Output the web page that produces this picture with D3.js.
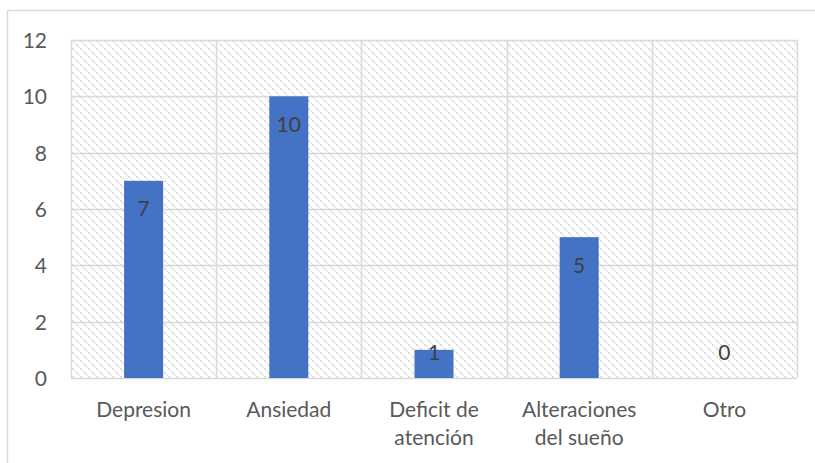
<!DOCTYPE html>
<html>
<head>
<meta charset="utf-8">
<script src="https://cdn.jsdelivr.net/npm/d3@7"></script>
<style>
  html, body { margin: 0; padding: 0; background: #fff; }
  svg { display: block; }
  text { font-family: "Lato", "Open Sans", sans-serif; fill: #595959; }
</style>
</head>
<body>
<svg id="chart" width="815" height="463"></svg>
<script>
// Chart data
const categories = ["Depresion", "Ansiedad", "Deficit de atención", "Alteraciones del sueño", "Otro"];
const categoryLines = [["Depresion"], ["Ansiedad"], ["Deficit de", "atención"], ["Alteraciones", "del sueño"], ["Otro"]];
const values = [7, 10, 1, 5, 0];
const yTicks = [0, 2, 4, 6, 8, 10, 12];

const svg = d3.select("#chart");
const W = 815, H = 463;
const plot = { left: 71, right: 797, top: 40, bottom: 378 };
const fontSize = "21px";

// Outer chart frame
svg.append("rect")
  .attr("x", 7.5).attr("y", 10.5)
  .attr("width", W + 10).attr("height", H + 10)
  .attr("fill", "#fff").attr("stroke", "#d9d9d9").attr("stroke-width", 1.5);

// Diagonal hatch for the plot area background
const defs = svg.append("defs");
const pat = defs.append("pattern")
  .attr("id", "hatch").attr("patternUnits", "userSpaceOnUse")
  .attr("width", 8).attr("height", 8);
pat.append("rect").attr("width", 8).attr("height", 8).attr("fill", "#ffffff");
[[0, 0], [2, 2], [4, 4], [6, 6]].forEach(([x, y], i) => {
  pat.append("rect").attr("x", x).attr("y", y).attr("width", 2).attr("height", 2)
    .attr("fill", i % 2 === 0 ? "#dddddd" : "#ebebeb");
});

const x = d3.scaleBand().domain(categories).range([plot.left, plot.right]).paddingInner(0).paddingOuter(0);
const y = d3.scaleLinear().domain([0, 12]).range([plot.bottom, plot.top]);

svg.append("rect")
  .attr("x", plot.left).attr("y", plot.top)
  .attr("width", plot.right - plot.left).attr("height", plot.bottom - plot.top)
  .attr("fill", "url(#hatch)");

// Horizontal gridlines
svg.append("g").selectAll("line").data(yTicks).join("line")
  .attr("x1", plot.left).attr("x2", plot.right)
  .attr("y1", d => Math.round(y(d)) + 0.5).attr("y2", d => Math.round(y(d)) + 0.5)
  .attr("stroke", "#d9d9d9").attr("stroke-width", 1.5);

// Vertical gridlines at category boundaries
const bounds = categories.map(c => x(c)).concat([plot.right]);
svg.append("g").selectAll("line").data(bounds).join("line")
  .attr("x1", d => Math.round(d) + 0.5).attr("x2", d => Math.round(d) + 0.5)
  .attr("y1", plot.top).attr("y2", plot.bottom)
  .attr("stroke", "#d9d9d9").attr("stroke-width", 1.5);

// Y axis labels
const yAxis = d3.axisLeft(y).tickValues(yTicks).tickSize(0).tickPadding(0);
const gy = svg.append("g").attr("transform", `translate(47,0)`).call(yAxis);
gy.select(".domain").remove();
gy.selectAll("text").style("font-size", fontSize).style("font-family", null).attr("fill", "#595959").attr("dy", "0.35em");

// Bars
const barW = 39;
svg.append("g").selectAll("rect").data(values).join("rect")
  .attr("x", (d, i) => x(categories[i]) + x.bandwidth() / 2 - barW / 2)
  .attr("y", d => y(d))
  .attr("width", barW)
  .attr("height", d => y(0) - y(d))
  .attr("fill", "#4472c4");

// Value labels
svg.append("g").selectAll("text").data(values).join("text")
  .attr("x", (d, i) => x(categories[i]) + x.bandwidth() / 2)
  .attr("y", d => Math.min(y(d) + 28, y(0) - 25))
  .attr("dy", "0.35em")
  .attr("text-anchor", "middle")
  .style("font-size", fontSize)
  .style("fill", "#404040")
  .text(d => d);

// Category labels
const gx = svg.append("g");
categoryLines.forEach((lines, i) => {
  const cx = x(categories[i]) + x.bandwidth() / 2;
  const t = gx.append("text")
    .attr("x", cx)
    .attr("y", 410)
    .attr("text-anchor", "middle")
    .style("font-size", fontSize);
  lines.forEach((ln, j) => {
    t.append("tspan").attr("x", cx)
      .attr("dy", j === 0 ? "0.35em" : "28px").text(ln);
  });
});
</script>
</body>
</html>
